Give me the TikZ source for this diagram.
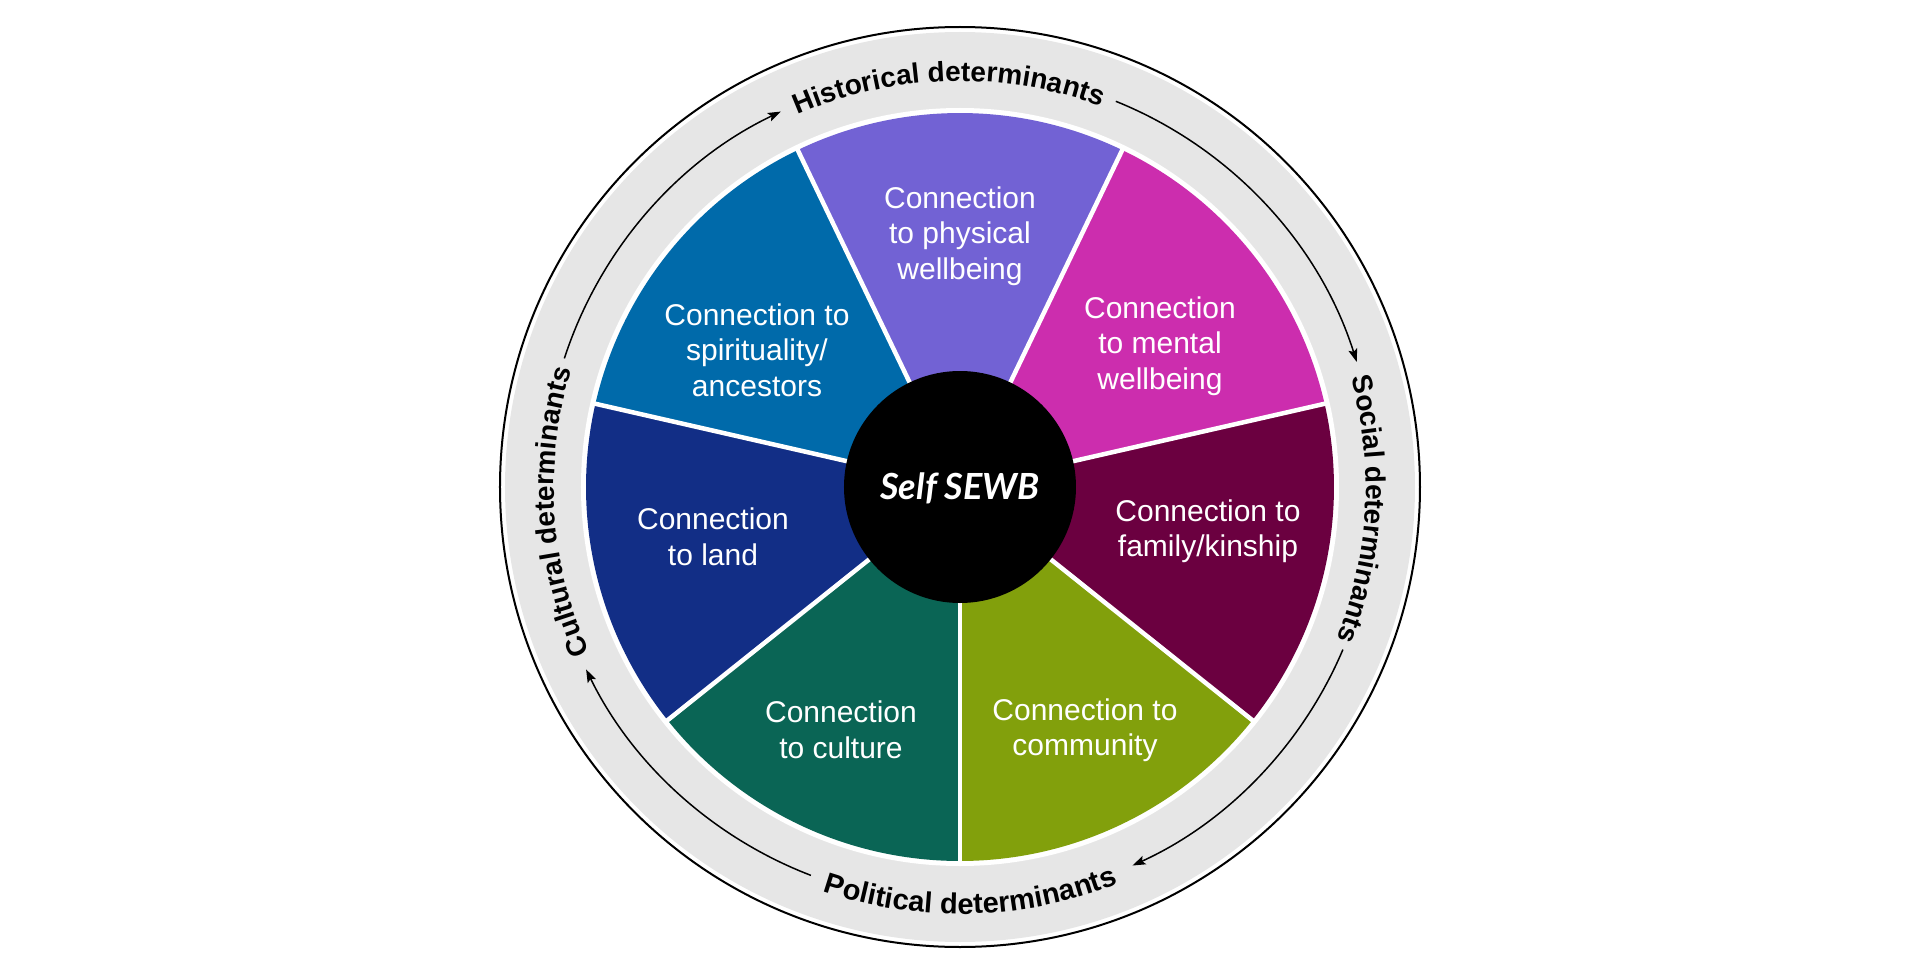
\documentclass[tikz,border=0pt]{standalone}
\usepackage{fontspec}
\setmainfont{Liberation Sans}
\newfontfamily\selffont{Lato}
\usetikzlibrary{decorations.text,arrows.meta}

\definecolor{cphys}{HTML}{7262D4}
\definecolor{cspirit}{HTML}{006AAA}
\definecolor{cland}{HTML}{122E86}
\definecolor{cculture}{HTML}{0A6555}
\definecolor{ccomm}{HTML}{82A00C}
\definecolor{cfamily}{HTML}{6B0040}
\definecolor{cmental}{HTML}{CC2DAE}
\definecolor{ringgray}{HTML}{E6E6E6}

\newcommand\curvefont{\fontsize{28}{34}\selectfont\bfseries}
\newcommand\curvefontb{\fontsize{29}{34}\selectfont\bfseries}

\begin{document}
\begin{tikzpicture}[x=1pt,y=1pt,
  wedgelabel/.style={text=white,align=center,inner sep=0pt,font=\fontsize{30}{35.5}\selectfont},
  ringarrow/.style={line width=1.5pt,-{Stealth[length=13pt,width=9pt,inset=2.5pt]}},
  sepline/.style={white,line width=4.5pt},
  curvetext/.style={decorate,decoration={text along path,text align=center,text={|\curvefont|#1}}},
  curvetextb/.style={decorate,decoration={text along path,text align=center,text={|\curvefontb|#1}}}]
\useasboundingbox (-960,-488) rectangle (960,487);

% outer ring
\draw[line width=2pt] (0,0) circle[radius=460];
\fill[ringgray] (0,0) circle[radius=455];
\fill[white] (0,0) circle[radius=379];

% wedges
\foreach \c [count=\i from 0] in {cphys,cspirit,cland,cculture,ccomm,cfamily,cmental} {
  \pgfmathsetmacro\a{64.2857+\i*51.4286}
  \fill[\c] (0,0) -- (\a:374) arc[start angle=\a, delta angle=51.4286, radius=374] -- cycle;
}
\foreach \i in {0,...,6} {
  \pgfmathsetmacro\a{64.2857+\i*51.4286}
  \draw[sepline] (0,0) -- (\a:376);
}

% centre
\fill[black] (0,0) circle[radius=116];
\node[text=white,font=\selffont\fontsize{36}{40}\selectfont\bfseries\itshape] (self) at (0,-1) {Self SEWB};

% wedge labels
\node[wedgelabel] (phys) at (0,251) {Connection\\to physical\\wellbeing};
\node[wedgelabel] (mental) at (200,141) {Connection\\to mental\\wellbeing};
\node[wedgelabel] (family) at (248,-44) {Connection to\\family/kinship};
\node[wedgelabel] (comm) at (125,-243) {Connection to\\community};
\node[wedgelabel] (culture) at (-119,-243) {Connection\\to culture};
\node[wedgelabel] (land) at (-247,-50) {Connection\\to land};
\node[wedgelabel] (spirit) at (-203,137) {Connection to\\spirituality/\\ancestors};

% curved determinant labels
\path[curvetext={Historical determinants}] (121.65:406) arc[start angle=121.65,end angle=61.65,radius=406];
\path[curvetext={Social determinants}] (26.8:406) arc[start angle=26.8,end angle=-33.2,radius=406];
\path[curvetextb={Political determinants}] (-118.5:427) arc[start angle=-118.5,end angle=-58.5,radius=427];
\path[curvetext={Cultural determinants}] (213.6:406) arc[start angle=213.6,end angle=153.6,radius=406];

% arrows between labels
\draw[ringarrow] (162:416) arc[start angle=162,end angle=115.5,radius=416];
\draw[ringarrow] (68:416) arc[start angle=68,end angle=17.5,radius=416];
\draw[ringarrow] (-23:416) arc[start angle=-23,end angle=-65.5,radius=416];
\draw[ringarrow] (-111:416) arc[start angle=-111,end angle=-154,radius=416];
\end{tikzpicture}
\end{document}
